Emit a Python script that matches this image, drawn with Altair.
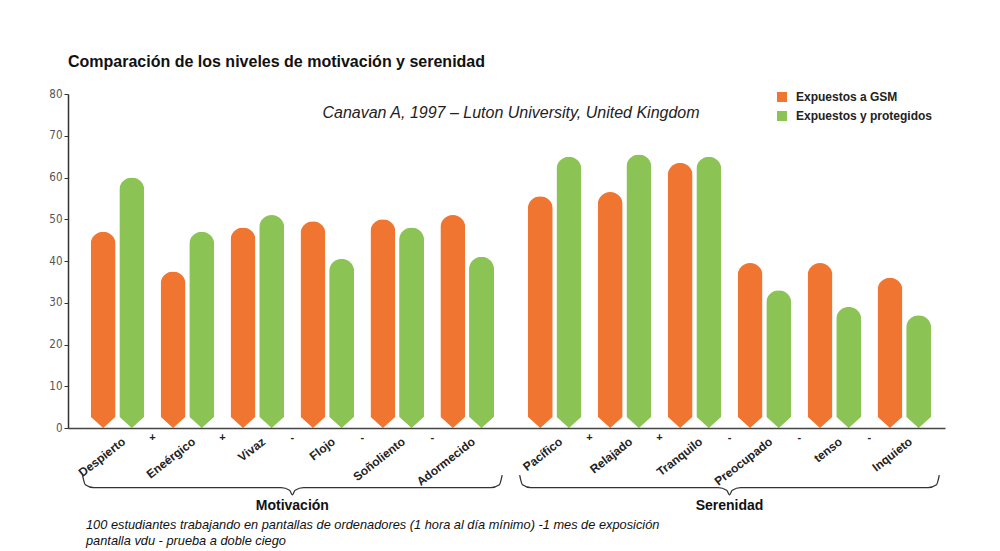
import altair as alt
import pandas as pd

# ---- data ----
motivacion = ["Despierto", "Eneérgico", "Vivaz", "Flojo", "Soñoliento", "Adormecido"]
serenidad = ["Pacífico", "Relajado", "Tranquilo", "Preocupado", "tenso", "Inquieto"]
gsm_mot = [47, 37.5, 48, 49.5, 50, 51]
prot_mot = [60, 47, 51, 40.5, 48, 41]
gsm_ser = [55.5, 56.5, 63.5, 39.5, 39.5, 36]
prot_ser = [65, 65.5, 65, 33, 29, 27]
signs_mot = ["+", "+", "-", "-", "-"]
signs_ser = ["+", "+", "-", "-", "-"]
series = ["Expuestos  a GSM", "Expuestos y protegidos"]
colors = ["#EF7530", "#8BC354"]
groups = ["Motivación", "Serenidad"]

GAP = 0.25      # extra space between the two groups (in category units)
OFF = 0.205     # half distance between paired bars

cats = motivacion + serenidad
pos = [i + (GAP if i >= 6 else 0) for i in range(len(cats))]
gsm = gsm_mot + gsm_ser
prot = prot_mot + prot_ser

rows = []
for c, p, a, b in zip(cats, pos, gsm, prot):
    rows.append({"cat": c, "x": p - OFF, "value": a, "serie": series[0]})
    rows.append({"cat": c, "x": p + OFF, "value": b, "serie": series[1]})
bars_df = pd.DataFrame(rows)

labels_df = pd.DataFrame({"cat": cats, "x": [p + 0.09 for p in pos]})

signs = signs_mot + signs_ser
sign_x = [(pos[i] + pos[i + 1]) / 2 for i in range(5)] + [(pos[i] + pos[i + 1]) / 2 for i in range(6, 11)]
signs_df = pd.DataFrame({"s": signs, "x": sign_x})

# braces under each group
brace_rows = []
for g, (a, b) in zip(groups, [(pos[0] - 0.5, pos[5] + 0.5), (pos[6] - 0.5, pos[11] + 0.5)]):
    m = (a + b) / 2
    pts = [(a, -11.3), (a + 0.04, -13.6), (a + 0.16, -14.3), (m - 0.16, -14.3), (m - 0.04, -14.9),
           (m, -16.0),
           (m + 0.04, -14.9), (m + 0.16, -14.3), (b - 0.16, -14.3), (b - 0.04, -13.6), (b, -11.3)]
    for k, (px, py) in enumerate(pts):
        brace_rows.append({"g": g, "k": k, "x": px, "y": py})
brace_df = pd.DataFrame(brace_rows)
glabel_df = pd.DataFrame({"g": groups, "x": [(pos[0] + pos[5]) / 2, (pos[6] + pos[11]) / 2]})

xscale = alt.Scale(domain=[-0.636, 11.76], nice=False, zero=False)
yscale = alt.Scale(domain=[0, 80], nice=False)

base = alt.Chart(bars_df)

bars = base.mark_bar(width=25, cornerRadiusTopLeft=12.5, cornerRadiusTopRight=12.5).encode(
    x=alt.X("x:Q", scale=xscale,
            axis=alt.Axis(title=None, labels=False, ticks=False, grid=False,
                          domainColor="#444", domainWidth=1.5, zindex=1)),
    y=alt.Y("value:Q", scale=yscale,
            axis=alt.Axis(title=None, values=list(range(0, 81, 10)), grid=False,
                          domainColor="#333", domainWidth=1.5, tickColor="#333", tickSize=4,
                          labelColor="#555", labelFontSize=11.5, labelFont="DejaVu Sans Condensed",
                          labelPadding=2, zindex=1)),
    color=alt.Color("serie:N", scale=alt.Scale(domain=series, range=colors),
                    legend=alt.Legend(title=None, orient="none", legendX=708, legendY=-3,
                                      symbolType="square", symbolSize=100, symbolStrokeWidth=0,
                                      labelFont="Liberation Sans", labelFontSize=12,
                                      labelFontWeight="bold", labelColor="#222",
                                      rowPadding=7, labelOffset=8)),
)

cutout = base.mark_point(
    shape="M -1 -0.9 L 0 0 L -1 0 Z M 1 -0.9 L 0 0 L 1 0 Z",
    filled=True, fill="white", opacity=1, size=676, strokeWidth=0,
).encode(x=alt.X("x:Q", scale=xscale), y=alt.Y("base:Q", scale=yscale)).transform_calculate(base="0")

cat_text = alt.Chart(labels_df).mark_text(
    angle=322, align="right", baseline="middle", font="Liberation Sans",
    fontWeight="bold", fontSize=12, color="#222",
).encode(x=alt.X("x:Q", scale=xscale), y=alt.Y("yy:Q", scale=yscale), text="cat:N").transform_calculate(yy="-2.9")

sign_text = alt.Chart(signs_df).mark_text(
    font="Liberation Sans", fontWeight="bold", fontSize=11, color="#222",
).encode(x=alt.X("x:Q", scale=xscale), y=alt.Y("yy:Q", scale=yscale), text="s:N").transform_calculate(yy="-2.4")

brace = alt.Chart(brace_df).mark_line(
    color="#333", strokeWidth=1.3, interpolate="monotone",
).encode(x=alt.X("x:Q", scale=xscale), y=alt.Y("y:Q", scale=yscale), detail="g:N", order="k:Q")

glabel = alt.Chart(glabel_df).mark_text(
    font="Liberation Sans", fontWeight="bold", fontSize=14, color="#111",
).encode(x=alt.X("x:Q", scale=xscale), y=alt.Y("yy:Q", scale=yscale), text="g:N").transform_calculate(yy="-18.6")

subtitle = alt.Chart(pd.DataFrame({"t": ["Canavan A, 1997 – Luton University, United Kingdom"]})).mark_text(
    font="Liberation Sans", fontStyle="italic", fontSize=16, color="#222",
).encode(x=alt.value(443), y=alt.value(19), text="t:N")

foot = alt.Chart(pd.DataFrame({
    "t": ["100 estudiantes trabajando en pantallas de ordenadores (1 hora al día mínimo) -1 mes de exposición",
          "pantalla vdu - prueba  a doble ciego"],
    "yy": [431, 447]})).mark_text(
    font="Liberation Sans", fontStyle="italic", fontSize=12.8, color="#111", align="left",
).encode(x=alt.value(18), y=alt.Y("yy:Q", scale=None), text="t:N")

chart = alt.layer(bars, cutout, cat_text, sign_text, brace, glabel, subtitle, foot).properties(
    width=877, height=334,
    background="white",
    title=alt.TitleParams("Comparación de los niveles de motivación y serenidad",
                          anchor="start", font="Liberation Sans",
                          fontSize=16, fontWeight="bold", color="#111", offset=18, frame="group"),
    autosize=alt.AutoSizeParams(type="none"),
    padding={"left": 68, "top": 94, "right": 55, "bottom": 123},
).configure_view(stroke=None)

chart.save("out.html", embed_options={"renderer": "svg", "actions": False})
